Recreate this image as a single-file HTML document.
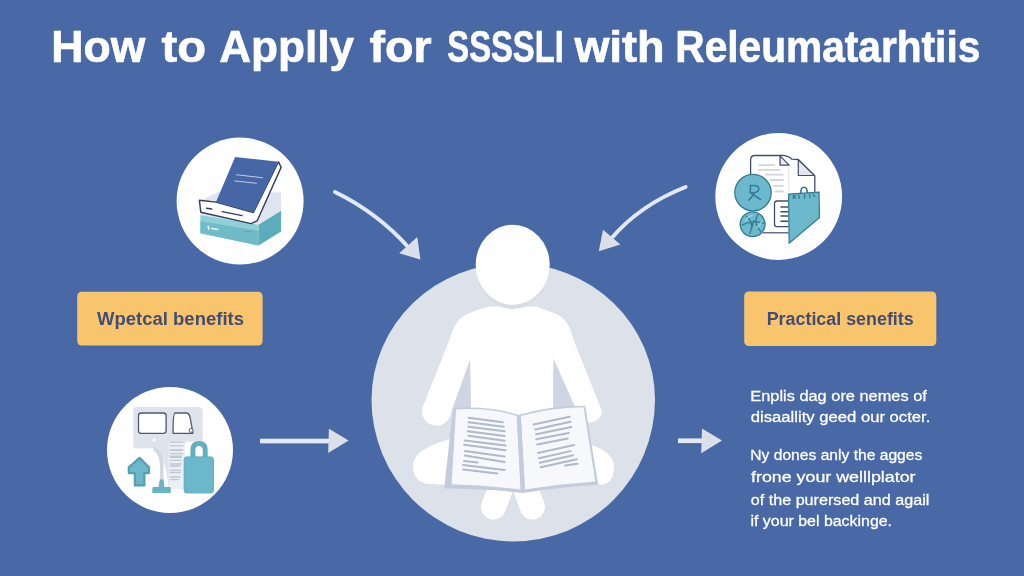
<!DOCTYPE html>
<html lang="en">
<head>
<meta charset="utf-8">
<title>How to Applly for SSSSLI with Releumatarhtiis</title>
<style>
html,body{margin:0;padding:0;width:1024px;height:576px;overflow:hidden;background:#4868a6;}
svg{display:block;position:absolute;left:0;top:0;will-change:transform;filter:blur(0.45px);}
text{font-family:"Liberation Sans",sans-serif;}
.t{font-weight:700;font-size:43.5px;fill:#fff;stroke:#fff;stroke-width:0.7px;stroke-linejoin:round;}
.lab{font-weight:700;font-size:18px;fill:#424c74;}
.p{font-size:15.5px;fill:#fff;stroke:#fff;stroke-width:0.3px;}
</style>
</head>
<body>
<svg width="1024" height="576" viewBox="0 0 1024 576">
<rect width="1024" height="576" fill="#4868a6"/>
<g class="t">
<text x="51.3" y="61.5" textLength="94" lengthAdjust="spacingAndGlyphs">How</text>
<text x="161.6" y="61.5" textLength="44.5" lengthAdjust="spacingAndGlyphs">to</text>
<text x="219.2" y="61.5" textLength="135" lengthAdjust="spacingAndGlyphs">Applly</text>
<text x="369.6" y="61.5" textLength="62" lengthAdjust="spacingAndGlyphs">for</text>
<text x="447.3" y="61.5" textLength="116.5" lengthAdjust="spacingAndGlyphs">SSSSLI</text>
<text x="574.6" y="61.5" textLength="90" lengthAdjust="spacingAndGlyphs">with</text>
<text x="675.3" y="61.5" textLength="305" lengthAdjust="spacingAndGlyphs">Releumatarhtiis</text>
</g>
<g>
<path d="M371.5 399.7 A141.75 136.7 0 0 1 655 399.7 A141.75 141.8 0 0 1 371.5 399.7 Z" fill="#dde1ea"/>
<g fill="#fff">
<path d="M490 306.5 C478 309.5 466 313 459 320 C454 326 452 332 449.4 340 L423.5 405 A13.6 13.6 0 0 0 449.5 417.6 L470 360 L471 416 L553 416 L553.5 359 L574.5 405 A13.6 13.6 0 0 0 602.3 412 L573.6 340 C571 330 568 323 562 317.5 C556 313 548 311 536 306.5 Z"/>
<path d="M450 439 C432 444 413 452 413 466 C413 478 420 484 431 484 L450 485 Z"/>
<path d="M590 445 C600 447 614 455 614 466 C614 478 610 484.5 600 484.5 L590 483 Z"/>
<path d="M500 490 L493.5 507" stroke="#fff" stroke-width="25" stroke-linecap="round" fill="none"/>
<path d="M526 490 L532.5 507" stroke="#fff" stroke-width="25" stroke-linecap="round" fill="none"/>
<ellipse cx="512.7" cy="268.2" rx="36" ry="41" fill="#d9dde6"/>
<ellipse cx="512.7" cy="264.7" rx="37" ry="40"/>
</g>
<path d="M470 360 L471 410 L452 410 Z" fill="#cfd5e2"/>
<path d="M553.5 359 L553 408 L574 406 Z" fill="#cfd5e2"/>
<path d="M453 408.2 Q490 405.5 518.5 415 Q550 405.5 585.2 405.7 L598.2 484.8 Q560 487 523 493 Q490 489 444.2 488.6 Z" fill="#c3ccdd"/>
<path d="M456 409.4 Q490 407.2 517 416 L520.6 489.6 Q490 485.5 451.6 484.2 Z" fill="#f6f8fb"/>
<path d="M521 416 Q550 407.8 583.6 407.3 L595.3 481.5 Q560 483.8 525 489.6 Z" fill="#f6f8fb"/>
<path d="M516.6 414.5 L520.6 415.2 L524.8 491.5 L520.8 491.5 Z" fill="#c3ccde"/>
<path d="M468.5 417.7 L502.8 422.2 M468.5 422.2 L503.7 426.7 M468.5 426.7 L504.6 431.2 M467.6 431.2 L504.6 436.1 M468.5 435.7 L504.6 440.8 M464.9 440.6 L505.5 445.6 M464.0 444.7 L505.5 450.2 M464.9 451.1 L504.6 456.5 M464.9 455.6 L504.6 461.9 M464.0 461.0 L477.5 462.4 M463.1 465.1 L504.6 470.0 M463.1 469.6 L497.4 473.6 M533.5 424.5 L569.6 416.8 M535.3 429.4 L570.5 421.8 M536.2 434.3 L571.4 427.0 M536.2 439.3 L568.7 433.0 M537.1 444.4 L567.8 438.4 M538.0 452.9 L574.1 445.1 M538.9 458.3 L570.5 451.1 M539.8 462.8 L573.2 455.2 M540.7 467.3 L576.8 459.2 M565.1 465.5 L577.7 463.7" stroke="#b0b9ca" stroke-width="2" stroke-linecap="round" fill="none"/>
</g>
<circle cx="240.1" cy="201.1" r="63.5" fill="#fff"/>
<circle cx="778.7" cy="196.5" r="63.4" fill="#fff"/>
<circle cx="170" cy="450" r="63" fill="#fff"/>
<g>
<path d="M203.0 199.5 L221.2 190.8 L281.1 192.5 L281.1 210.8 L258.6 224.7 L200.4 215.1 Z" fill="#dfe4ee"/>
<path d="M200.4 215.1 L258.6 224.7 L258.6 245.5 L200.4 233.3 Z" fill="#8fd0d6"/>
<path d="M200.4 221.2 L258.6 230.7 L258.6 245.5 L200.4 233.3 Z" fill="#6fbcc8"/>
<path d="M258.6 224.7 L281.1 210.8 L281.1 231.6 L258.6 245.5 Z" fill="#5cadbb"/>
<path d="M199.4 200.3 L216.0 202.1 L253.4 212.5 L278.5 161.8 L281.1 167.4 L257.2 220.8 L251.1 223.6 L200.8 212.2 Z" fill="#fff" stroke="#333d5c" stroke-width="1.4" stroke-linejoin="round"/>
<path d="M235.1 156.9 L278.5 161.8 L253.4 212.5 L216.0 202.1 Z" fill="#4766a6"/>
<path d="M236.0 174.7 L262.9 177.8 M234.3 180.9 L256.8 183.3" stroke="#c9d6ee" stroke-width="0.9" fill="none"/>
<path d="M206.5 208.2 L211.7 209.0 M222.1 211.6 L242.1 215.6" stroke="#333d5c" stroke-width="1.4" fill="none" stroke-linecap="round"/>
<path d="M208.2 226.4 L208.8 229.0 M211.7 228.5 L217.8 229.5" stroke="#e6f5f6" stroke-width="1.6" fill="none" stroke-linecap="round"/>
<path d="M245.6 231.2 L251.6 232.1" stroke="#4e9fae" stroke-width="0.8" fill="none" stroke-linecap="round"/>
</g>
<g>
<path d="M780.1 155.5 Q787.9 155.0 791.9 159.2 L798.3 159.5 L814.8 175.9 L814.8 194.6" fill="none" stroke="#434c6b" stroke-width="1.3" stroke-linejoin="round" stroke-linecap="round"/>
<path d="M762.7 232.8 L788.8 232.8" fill="none" stroke="#434c6b" stroke-width="1.2"/>
<path d="M798.3 159.9 L798.3 175.5 L814.5 175.5 Z" fill="#e3e6ee" stroke="#434c6b" stroke-width="1.2" stroke-linejoin="round"/>
<path d="M750.6 177.2 L750.6 159.9 Q750.6 155.5 754.9 155.5 L780.1 155.5" fill="none" stroke="#434c6b" stroke-width="1.3" stroke-linejoin="round"/>
<path d="M780.1 155.9 L780.1 165.1 L789.1 165.1 Z" fill="#eceef3" stroke="#434c6b" stroke-width="1.3" stroke-linejoin="round"/>
<path d="M788.8 167.7 L788.8 192.9" stroke="#e1e4ea" stroke-width="0.9" fill="none"/>
<path d="M758.4 165.1 L774.9 165.1 M758.4 169.8 L780.1 169.8 M765.3 174.6 L783.6 174.6 M769.7 180.0 L783.6 180.0 M773.1 185.9 L783.6 185.9 M774.9 191.5 L783.6 191.5" stroke="#d0d4dc" stroke-width="1.8" fill="none"/>
<path d="M788.8 201.0 L777.0 201.0 Q774.5 201.0 774.5 203.6 L774.5 224.1 Q774.5 226.7 777.0 226.7 L788.8 226.7" fill="#fff" stroke="#434c6b" stroke-width="1.3" stroke-linejoin="round"/>
<path d="M780.4 206.9 L788.4 206.9 M780.4 211.8 L788.4 211.8 M780.4 216.1 L788.4 216.1 M780.4 221.3 L788.4 221.3" stroke="#434c6b" stroke-width="1.5" fill="none"/>
<circle cx="753" cy="192.6" r="18.2" fill="#6cb9cd" stroke="#357a8f" stroke-width="1.3"/>
<circle cx="752.6" cy="224.3" r="12.4" fill="#6cb9cd" stroke="#357a8f" stroke-width="1.3"/>
<path d="M750.6 185.6 L750.2 192.9 M750.2 185.6 Q759.2 184.5 758.9 189.4 Q757.5 193.2 750.6 192.9 L760.6 199.5 M754.0 194.3 L748.8 200.2" stroke="#357a8f" stroke-width="1.5" fill="none" stroke-linecap="round" stroke-linejoin="round"/>
<path d="M746.2 216.3 Q754.9 222.4 749.7 233.7 M758.4 213.7 Q752.3 222.4 761.0 231.9 M742.2 225.0 Q752.3 219.8 763.6 223.3 M754.0 220.7 L750.6 231.1" stroke="#357a8f" stroke-width="1.3" fill="none" stroke-linecap="round"/>
<path d="M745.4 220.7 Q748.0 216.3 752.3 215.4 M756.6 227.6 Q760.1 225.9 761.9 221.5" stroke="#a4d6e2" stroke-width="1.2" fill="none" stroke-linecap="round"/>
<path d="M800.9 193.7 Q800.6 187.3 804.0 187.3 Q807.5 187.3 807.2 193.7" stroke="#357a8f" stroke-width="1.6" fill="none"/>
<path d="M788.6 194.1 L819.0 192.2 L819.5 217.5 L789.1 243.2 Z" fill="#6cb9cd" stroke="#357a8f" stroke-width="1.2" stroke-linejoin="round"/>
<path d="M793.1 195.3 L795.4 198.4 M795.4 195.3 L793.1 198.4 M798.8 195.0 L799.2 198.4 M804.4 194.6 L804.7 198.1 M809.6 194.3 L809.9 197.7 M813.1 194.3 L814.8 196.7" stroke="#357a8f" stroke-width="1.3" fill="none" stroke-linecap="round"/>
</g>
<g>
<path d="M133.3 409.9 Q133.3 407.1 136.2 407.1 L199.5 407.1 Q202.6 407.8 202.6 410.9 L202.6 441.7 L184.9 441.7 L184.9 489.0 L168.8 489.0 Q164.6 450.4 153.1 448.3 L135.9 448.4 Q133.3 448.4 133.3 445.8 Z" fill="#dfe3eb"/>
<path d="M168.8 441.1 L184.9 441.1 L184.9 489.0 L168.8 489.0 Z" fill="#eceff4"/>
<path d="M153.6 448.5 Q161.5 451.5 161.7 466.0 L161.7 481.7" stroke="#d3d8e2" stroke-width="3.6" fill="none"/>
<path d="M169.8 442.2 L184.9 442.2 M169.8 445.8 L183.3 445.8 M169.8 449.8 L183.3 449.8 M169.8 453.6 L183.3 453.6 M169.8 457.3 L181.8 457.3 M169.8 450.4 L182.8 450.4 M169.8 456.1 L181.8 456.1 M169.8 460.3 L181.2 460.3 M169.8 464.0 L181.8 464.0 M169.8 466.0 L180.7 466.0 M169.8 470.2 L181.2 470.2 M169.8 472.5 L180.7 472.5 M169.8 477.0 L180.2 477.0 M169.8 479.6 L179.2 479.6" stroke="#c0c7d4" stroke-width="1.3" fill="none"/>
<rect x="138.5" y="413.0" width="27.6" height="20.3" rx="2.6" fill="#fff" stroke="#4f5874" stroke-width="1.3"/>
<path d="M175.0 413.0 L186.5 413.0 Q189.4 413.3 190.1 417.7 L191.9 427.3 L192.9 433.3 Q175.0 433.3 173.1 433.3 L173.1 431.2 Q173.1 413.0 175.0 413.0 Z" fill="#fff" stroke="#4f5874" stroke-width="1.3" stroke-linejoin="round"/>
<circle cx="191.1" cy="430.4" r="2" fill="#fff" stroke="#4f5874" stroke-width="1"/>
<circle cx="154.2" cy="440.1" r="1.4" fill="#fff"/>
<path d="M139.6 457.9 L149.0 467.3 L149.0 473.1 L144.4 473.1 L144.4 485.4 L134.8 485.4 L134.8 473.1 L128.8 473.1 L128.8 467.3 Z" fill="#6cb8cb" stroke="#569fb3" stroke-width="2.2" stroke-linejoin="round"/>
<path d="M159.9 479.6 L163.5 479.6 L164.4 487.1 L169.8 487.1 Q170.8 487.4 170.8 489.0 L170.8 493.1 L152.3 493.1 L152.3 489.0 Q152.3 487.1 153.6 487.1 L158.5 487.1 Z" fill="#68b3c4"/>
<path d="M192.9 457.7 L192.9 449.9 Q192.9 443.6 199.0 443.6 Q205.2 443.6 205.2 449.9 L205.2 457.7" stroke="#62afc2" stroke-width="5" fill="none"/>
<rect x="184.2" y="456.9" width="29.2" height="36.0" rx="2.4" fill="#6cb8cb" stroke="#5faec1" stroke-width="1"/>
</g>
<rect x="77.2" y="291.8" width="185.4" height="53.7" rx="4.5" fill="#f8c56c"/>
<rect x="744.2" y="291.4" width="192.1" height="54.6" rx="4.5" fill="#f8c56c"/>
<text class="lab" x="97" y="324.7" textLength="147" lengthAdjust="spacingAndGlyphs">Wpetcal benefits</text>
<text class="lab" x="766.7" y="325" textLength="147" lengthAdjust="spacingAndGlyphs">Practical senefits</text>
<g class="p">
<text x="750.3" y="401.2" textLength="176.5" lengthAdjust="spacingAndGlyphs">Enplis dag ore nemes of</text>
<text x="750.8" y="422.2" textLength="179.5" lengthAdjust="spacingAndGlyphs">disaallity geed our octer.</text>
<text x="750.3" y="459.7" textLength="172" lengthAdjust="spacingAndGlyphs">Ny dones anly the agges</text>
<text x="751" y="481.6" textLength="164.5" lengthAdjust="spacingAndGlyphs">frone your welllplator</text>
<text x="750.8" y="504.8" textLength="178.5" lengthAdjust="spacingAndGlyphs">of the purersed and agail</text>
<text x="750.5" y="526" textLength="141.5" lengthAdjust="spacingAndGlyphs">if your bel backinge.</text>
</g>
<g fill="#dadfe9">
<path d="M335 192 Q378 213 409 248" fill="none" stroke="#e2e8f5" stroke-width="4" stroke-linecap="round"/>
<path d="M420.4 259.6 L417.3 237 L399.2 253.3 Z"/>
<path d="M685.6 187 Q640 205 611.7 238" fill="none" stroke="#e2e8f5" stroke-width="4" stroke-linecap="round"/>
<path d="M598.8 251.3 L603 229.8 L620.4 244.4 Z"/>
<rect x="260" y="438.7" width="71" height="4.7" fill="#e2e8f5"/>
<path d="M348.6 440.6 L328.9 428.7 L328.2 453 Z"/>
<rect x="678" y="438.4" width="26" height="4.7" fill="#e2e8f5"/>
<path d="M722 440.5 L702 428.5 L701.2 453.2 Z"/>
</g>
</svg>
</body>
</html>
